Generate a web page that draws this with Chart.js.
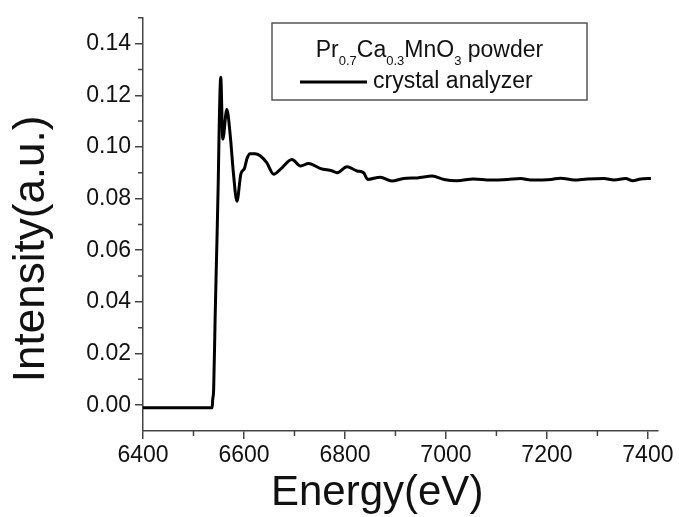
<!DOCTYPE html>
<html>
<head>
<meta charset="utf-8">
<script src="https://cdn.jsdelivr.net/npm/chart.js@4"></script>
<style>
  html, body { margin: 0; padding: 0; background: #fff; }
</style>
</head>
<body>
<canvas id="myChart" width="679" height="517"></canvas>
<script>
// Mn K-edge XAS of Pr0.7Ca0.3MnO3 powder
const energy = [
    6400, 6537, 6538, 6540, 6543, 6546, 6549, 6551, 6554, 6558,
    6566, 6573, 6579, 6586, 6594, 6601, 6606, 6612, 6622, 6632,
    6645, 6659, 6672, 6695, 6712, 6728, 6752, 6775, 6784, 6804,
    6824, 6837, 6845, 6870, 6893, 6916, 6943, 6973, 6996, 7022,
    7055, 7088, 7122, 7148, 7168, 7208, 7227, 7254, 7280, 7313,
    7333, 7356, 7370, 7386, 7406
];
const intensity = [
    -0.001, -0.001, 0.002, 0.0065, 0.035, 0.060, 0.086, 0.109, 0.127, 0.103,
    0.1145, 0.104, 0.090, 0.079, 0.0897, 0.0917, 0.0955, 0.0974, 0.0974, 0.0966,
    0.0939, 0.0894, 0.0913, 0.0951, 0.0926, 0.0936, 0.0916, 0.0907, 0.0900, 0.0923,
    0.0907, 0.0900, 0.0874, 0.0883, 0.0868, 0.0878, 0.0880, 0.0887, 0.0874, 0.0869,
    0.0876, 0.0872, 0.0874, 0.0878, 0.0872, 0.0874, 0.0879, 0.0872, 0.0876, 0.0878,
    0.0872, 0.0878, 0.0869, 0.0876, 0.0878
];

const xTicks = [6400, 6600, 6800, 7000, 7200, 7400];
const xMinorTicks = [6500, 6700, 6900, 7100, 7300];
const yTicks = [0, 0.02, 0.04, 0.06, 0.08, 0.10, 0.12, 0.14];
const yMinorTicks = [0.01, 0.03, 0.05, 0.07, 0.09, 0.11, 0.13, 0.15];

// legend title pieces: [text, isSubscript]
const legendTitle = [["Pr", 0], ["0.7", 1], ["Ca", 0], ["0.3", 1], ["MnO", 0], ["3", 1], [" powder", 0]];

const FONT = "'Liberation Sans', Arial, sans-serif";
const AXIS_COLOR = "#444";

Chart.defaults.font.family = FONT;
Chart.defaults.color = "#111";

// short minor ticks, Chart.js only does one tick length per axis
const minorTicks = {
    id: "minorTicks",
    afterDraw(chart) {
        const { ctx, scales: { x, y } } = chart;
        ctx.save();
        ctx.strokeStyle = AXIS_COLOR;
        ctx.lineWidth = 1.5;
        ctx.beginPath();
        xMinorTicks.forEach(v => {
            const px = x.getPixelForValue(v);
            ctx.moveTo(px, x.top);
            ctx.lineTo(px, x.top + 5);
        });
        yMinorTicks.forEach(v => {
            const py = y.getPixelForValue(v);
            ctx.moveTo(y.right, py);
            ctx.lineTo(y.right - 5, py);
        });
        ctx.stroke();
        ctx.restore();
    }
};

// boxed legend with subscripted formula as its title
const legendBox = {
    id: "legendBox",
    afterDraw(chart) {
        const ctx = chart.ctx;
        const ds = chart.data.datasets[0];
        const box = { left: 272, top: 23, right: 587, bottom: 100 };
        const mainFont = "23px " + FONT;
        const subFont = "13px " + FONT;
        ctx.save();
        ctx.strokeStyle = "#555";
        ctx.lineWidth = 1.5;
        ctx.strokeRect(box.left, box.top, box.right - box.left, box.bottom - box.top);

        ctx.fillStyle = "#111";
        ctx.textBaseline = "alphabetic";
        let total = 0;
        legendTitle.forEach(([t, sub]) => {
            ctx.font = sub ? subFont : mainFont;
            total += ctx.measureText(t).width;
        });
        let x = (box.left + box.right) / 2 - total / 2;
        legendTitle.forEach(([t, sub]) => {
            ctx.font = sub ? subFont : mainFont;
            ctx.fillText(t, x, sub ? 65 : 57);
            x += ctx.measureText(t).width;
        });

        ctx.strokeStyle = ds.borderColor;
        ctx.lineWidth = ds.borderWidth;
        ctx.beginPath();
        ctx.moveTo(300, 82);
        ctx.lineTo(367, 82);
        ctx.stroke();
        ctx.font = mainFont;
        ctx.fillText(ds.label, 373, 88);
        ctx.restore();
    }
};

const ctx = document.getElementById("myChart").getContext("2d");

new Chart(ctx, {
    type: "line",
    data: {
        datasets: [{
            label: "crystal analyzer",
            data: energy.map((e, i) => ({ x: e, y: intensity[i] })),
            borderColor: "#000",
            borderWidth: 3,
            pointRadius: 0,
            fill: false,
            cubicInterpolationMode: "monotone"
        }]
    },
    options: {
        responsive: false,
        animation: false,
        layout: { padding: { top: 13, right: 21, left: 0, bottom: 0 } },
        plugins: {
            legend: { display: false },
            tooltip: { enabled: false }
        },
        scales: {
            x: {
                type: "linear",
                min: 6400,
                max: 7420,
                afterBuildTicks: s => { s.ticks = xTicks.map(v => ({ value: v })); },
                afterFit: s => { s.height = 86; },
                ticks: {
                    font: { size: 23 },
                    color: "#111",
                    padding: 3,
                    maxRotation: 0,
                    autoSkip: false,
                    callback: v => String(v)
                },
                grid: { drawOnChartArea: false, tickLength: 8, color: AXIS_COLOR, lineWidth: 1.5 },
                border: { color: AXIS_COLOR, width: 1.5 },
                title: {
                    display: true,
                    // trailing spaces nudge the title left, as in the original
                    text: "Energy(eV)    ",
                    font: { size: 42, lineHeight: 1 },
                    color: "#111",
                    padding: { top: 0, bottom: 3 }
                }
            },
            y: {
                min: -0.01,
                max: 0.15,
                afterBuildTicks: s => { s.ticks = yTicks.map(v => ({ value: v })); },
                afterFit: s => { s.width = 143; },
                ticks: {
                    font: { size: 23 },
                    color: "#111",
                    padding: 4,
                    callback: v => v.toFixed(2)
                },
                grid: { drawOnChartArea: false, tickLength: 8, color: AXIS_COLOR, lineWidth: 1.5 },
                border: { color: AXIS_COLOR, width: 1.5 },
                title: {
                    display: true,
                    text: "Intensity(a.u.)    ",
                    font: { size: 44, lineHeight: 1 },
                    color: "#111",
                    padding: { top: 10, bottom: 0 }
                }
            }
        }
    },
    plugins: [minorTicks, legendBox]
});
</script>
</body>
</html>
